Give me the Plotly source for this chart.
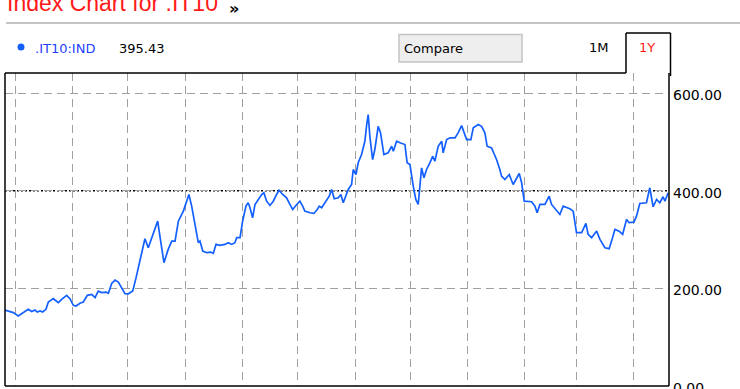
import plotly.graph_objects as go
import pandas as pd

# ---------------- data ----------------
start_date = "2009-04-25"
day_offsets = [0.4, 4.9, 7.6, 10.3, 13.0, 14.9, 16.7, 17.9, 19.4, 20.8,
               22.6, 23.9, 26.6, 27.5, 29.3, 31.1, 33.8, 35.6, 37.4, 38.9,
               41.0, 42.8, 45.0, 47.4, 49.2, 50.9, 52.8, 55.1, 56.4, 58.2,
               60.0, 61.8, 63.6, 65.4, 67.2, 69.6, 71.4, 73.5, 76.2, 78.0,
               80.7, 83.1, 84.3, 86.5, 88.8, 90.7, 92.5, 94.3, 97.0, 98.8,
               100.0, 101.5, 103.3, 105.1, 106.0, 107.5, 109.6, 111.8, 113.2, 114.7,
               116.8, 119.5, 121.3, 123.2, 124.9, 125.9, 127.7, 129.1, 130.9, 132.1,
               133.1, 134.5, 135.8, 137.6, 139.4, 140.6, 142.1, 143.9, 145.7, 147.5,
               148.8, 150.8, 152.9, 154.7, 156.2, 158.4, 160.1, 161.6, 162.8, 165.6,
               167.7, 169.5, 170.6, 171.9, 173.7, 174.9, 176.0, 177.3, 178.7, 180.9,
               182.3, 183.6, 185.0, 186.3, 188.1, 189.0, 190.5, 191.7, 193.5, 195.3,
               196.3, 197.1, 198.0, 199.5, 200.7, 202.5, 203.8, 205.6, 207.9, 209.8,
               210.7, 212.5, 214.3, 217.0, 218.2, 219.7, 221.5, 222.9, 224.2, 225.1,
               226.0, 227.3, 228.7, 230.5, 232.0, 233.2, 235.0, 236.9, 237.7, 239.6,
               241.4, 244.1, 245.8, 247.7, 249.5, 250.4, 252.7, 254.0, 256.7, 258.5,
               260.3, 261.5, 263.9, 266.6, 268.4, 269.3, 271.1, 273.5, 275.6, 278.9,
               280.2, 281.6, 285.6, 287.4, 288.6, 290.1, 292.8, 295.1, 296.4, 298.7,
               300.9, 302.7, 306.3, 308.1, 309.9, 312.7, 315.0, 316.2, 318.1, 320.8,
               322.6, 325.3, 327.6, 328.9, 330.7, 333.0, 334.9, 337.0, 338.4, 341.0,
               342.4, 344.2, 347.8, 349.6, 351.4, 353.3, 355.0, 356.8, 357.8, 359.5]
index_values = [155.6, 150.3, 143.4, 150.3, 157.1, 152.4, 155.6, 151.5, 153.6, 151.5,
                157.1, 172.0, 178.9, 176.1, 170.8, 177.5, 185.7, 178.9, 165.2, 163.8,
                169.3, 172.0, 185.7, 187.7, 181.0, 194.5, 191.2, 192.4, 189.8, 210.2,
                217.0, 212.9, 201.4, 189.2, 188.8, 194.5, 221.9, 255.8, 301.6, 283.2,
                313.9, 337.6, 307.0, 252.6, 279.8, 296.7, 296.7, 337.6, 358.1, 378.5,
                392.2, 368.3, 327.4, 293.5, 296.7, 276.3, 273.0, 274.2, 271.6, 290.0,
                287.9, 290.0, 293.5, 290.0, 293.5, 303.7, 303.7, 337.6, 368.3, 375.3,
                365.0, 344.6, 371.8, 382.0, 392.2, 395.7, 378.5, 369.7, 378.5, 392.2,
                401.0, 392.2, 385.5, 371.8, 361.6, 371.8, 378.5, 368.3, 358.1, 354.8,
                353.4, 361.6, 368.3, 365.0, 375.3, 382.0, 388.8, 402.5, 383.4, 385.5,
                392.2, 375.3, 388.8, 402.5, 412.7, 443.4, 433.1, 457.1, 474.0, 501.2,
                535.4, 555.8, 511.5, 463.8, 484.3, 531.9, 518.4, 474.0, 477.5, 491.0,
                480.8, 501.2, 498.0, 494.5, 457.1, 453.6, 409.2, 382.0, 371.8, 402.5,
                446.8, 426.4, 443.4, 457.1, 470.6, 460.3, 491.0, 501.2, 477.5, 504.7,
                508.2, 508.2, 518.4, 533.3, 514.9, 504.7, 504.7, 528.6, 535.4, 531.9,
                518.4, 491.0, 487.7, 463.8, 443.4, 429.7, 422.9, 433.1, 412.7, 435.2,
                416.2, 378.5, 377.3, 368.3, 354.8, 371.8, 371.8, 388.8, 371.8, 361.6,
                351.3, 368.3, 363.0, 358.1, 313.9, 313.9, 332.9, 310.4, 303.7, 317.2,
                300.2, 283.2, 281.2, 296.7, 320.7, 317.2, 310.4, 341.1, 334.4, 335.6,
                347.9, 373.8, 375.3, 405.9, 367.1, 382.0, 375.3, 387.5, 378.5, 395.43]
y_tick_values = [0, 200, 400, 600]
y_tick_labels = ["0.00", "200.00", "400.00", "600.00"]
reference_level = 400
symbol = ".IT10:IND"
last_value_text = "395.43"
title_text = "Index Chart for .IT10"

dates = pd.Timestamp(start_date) + pd.to_timedelta(day_offsets, unit="D")

# ---------------- geometry helpers (page pixels -> paper coords) ----------------
W, H = 740, 389
L, R, T, B = 5, 669, 73, 386


def px(x):
    return (x - L) / (R - L)


def py(y):
    return (B - y) / (B - T)


BLUE = "#1460ff"
GRID = "#a0a0a0"

fig = go.Figure()
fig.add_trace(go.Scatter(x=dates, y=index_values, mode="lines",
                         line=dict(color=BLUE, width=1.7),
                         hoverinfo="skip", showlegend=False))

shapes = []
# dotted reference line
shapes.append(dict(type="line", xref="paper", yref="y", x0=0, x1=1,
                   y0=reference_level, y1=reference_level,
                   line=dict(color="black", width=1.5, dash="2px,2px"),
                   layer="between"))
# plot frame
frame = dict(color="black", width=1.5)
shapes += [
    dict(type="line", xref="paper", yref="paper", x0=0, x1=0, y0=0, y1=1, line=frame),
    dict(type="line", xref="paper", yref="paper", x0=0, x1=1, y0=0, y1=0, line=frame),
    dict(type="line", xref="paper", yref="paper", x0=1, x1=1, y0=0, y1=1, line=frame),
    dict(type="line", xref="paper", yref="paper", x0=0, x1=px(626), y0=1, y1=1, line=frame),
    # 1Y tab
    dict(type="line", xref="paper", yref="paper", x0=px(626), x1=px(626), y0=1, y1=py(33), line=frame),
    dict(type="line", xref="paper", yref="paper", x0=px(626), x1=px(670.5), y0=py(33), y1=py(33), line=frame),
    dict(type="line", xref="paper", yref="paper", x0=px(670.5), x1=px(670.5), y0=py(33), y1=py(76), line=frame),
]
# header rule
shapes.append(dict(type="line", xref="paper", yref="paper", x0=px(6), x1=px(740),
                   y0=py(23), y1=py(23), line=dict(color="#b0b0b0", width=1.5)))
# legend dot
shapes.append(dict(type="circle", xref="paper", yref="paper",
                   x0=px(17.5), x1=px(24.5), y0=py(50.5), y1=py(43.5),
                   fillcolor=BLUE, line=dict(width=0)))
# compare box
shapes.append(dict(type="rect", xref="paper", yref="paper",
                   x0=px(399), x1=px(522), y0=py(62), y1=py(34.5),
                   fillcolor="#eeeeee", line=dict(color="#c4c4c4", width=1.5)))


def ann(text, x, y, size, color, font="DejaVu Sans", bold=False):
    return dict(text=text, xref="paper", yref="paper", x=px(x), y=py(y),
                xanchor="left", yanchor="middle", showarrow=False,
                font=dict(family=font, size=size, color=color,
                          weight="bold" if bold else "normal"))


annotations = [
    ann(title_text, 5, 3, 23, "#ff1a1a", font="Liberation Sans"),
    ann("»", 227, 8, 16, "black", bold=True),
    ann(symbol, 33, 49, 13, "#1f3fff"),
    ann(last_value_text, 117, 49, 13, "black"),
    ann("Compare", 402, 49, 13, "black"),
    ann("1M", 587, 48, 13, "black"),
    ann("1Y", 637, 48, 13, "#ff1a1a"),
]

fig.update_layout(
    width=W, height=H,
    margin=dict(l=L, r=W - R, t=T, b=H - B, pad=0, autoexpand=False),
    paper_bgcolor="white", plot_bgcolor="white",
    showlegend=False,
    shapes=shapes,
    annotations=annotations,
    xaxis=dict(type="date",
               range=[pd.Timestamp("2009-04-25 10:00"), pd.Timestamp("2010-04-20 00:00")],
               tick0="2009-05-01", dtick="M1",
               showgrid=True, gridcolor=GRID, gridwidth=1.3, griddash="8px,5px",
               showticklabels=False, ticks="", showline=False, zeroline=False,
               automargin=False, fixedrange=True),
    yaxis=dict(side="right", range=[0, 641],
               tickvals=y_tick_values, ticktext=y_tick_labels,
               showgrid=True, gridcolor=GRID, gridwidth=1.3, griddash="8px,5px",
               ticks="", showline=False, zeroline=False,
               ticklabelstandoff=3, ticklabelshift=2,
               ticklabeloverflow="allow", automargin=False,
               tickfont=dict(family="DejaVu Sans", size=14, color="black"),
               fixedrange=True),
)

fig.write_html("out.html", config={"displayModeBar": False})
